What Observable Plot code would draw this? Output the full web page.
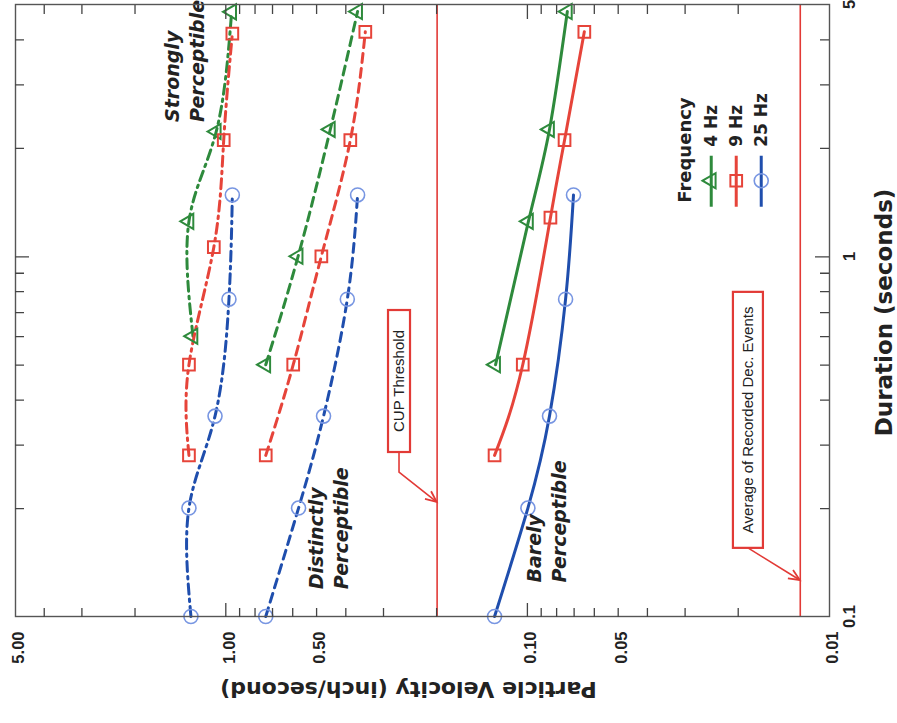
<!DOCTYPE html>
<html>
<head>
<meta charset="utf-8">
<script src="https://cdn.jsdelivr.net/npm/d3@7"></script>
<script src="https://cdn.jsdelivr.net/npm/@observablehq/plot@0.6"></script>
<style>
html, body { margin: 0; padding: 0; background: #fff; overflow: hidden; width: 897px; height: 723px; }
#wrap { position: absolute; left: 0; top: 0; width: 723px; height: 897px;
        transform-origin: 0 0; transform: translate(0px, 723px) rotate(-90deg); }
</style>
</head>
<body>
<div id="wrap"></div>
<script>
// ---------------- data ----------------
const frequencies = ["4 Hz", "9 Hz", "25 Hz"];
const levels = ["Strongly Perceptible", "Distinctly Perceptible", "Barely Perceptible"];

// [duration (seconds), particle velocity (inch/second)]
const strongly4Hz   = [[0.6, 1.29], [1.25, 1.33], [2.22, 1.08], [4.77, 0.96]];
const strongly9Hz   = [[0.28, 1.33], [0.5, 1.33], [1.06, 1.10], [2.1, 1.02], [4.15, 0.955]];
const strongly25Hz  = [[0.1, 1.31], [0.2, 1.33], [0.36, 1.09], [0.76, 0.98], [1.48, 0.955]];
const distinct4Hz   = [[0.5, 0.74], [1.0, 0.578], [2.25, 0.452], [4.78, 0.367]];
const distinct9Hz   = [[0.28, 0.74], [0.5, 0.60], [1.0, 0.484], [2.1, 0.388], [4.2, 0.346]];
const distinct25Hz  = [[0.1, 0.74], [0.2, 0.576], [0.36, 0.476], [0.76, 0.397], [1.48, 0.367]];
const barely4Hz     = [[0.5, 0.128], [1.25, 0.0996], [2.25, 0.0848], [4.78, 0.074]];
const barely9Hz     = [[0.28, 0.129], [0.5, 0.104], [1.28, 0.0842], [2.1, 0.0756], [4.2, 0.065]];
const barely25Hz    = [[0.1, 0.129], [0.2, 0.100], [0.36, 0.0848], [0.76, 0.075], [1.48, 0.0706]];

const cupThreshold = 0.2;            // in/s
const avgRecordedDecEvents = 0.0125; // in/s

const durationTickLabels = [0.1, 1, 5];
const durationMajorTicks = [1];
const durationMinorTicks = [0.2, 0.3, 0.4, 0.5, 0.6, 0.7, 0.8, 0.9, 2, 3, 4];
const velocityTickLabels = [5, 1, 0.5, 0.1, 0.05, 0.01];
const velocityMajorTicks = [1, 0.1];
const velocityMinorTicks = [4, 3, 2, 0.9, 0.8, 0.7, 0.6, 0.5, 0.4, 0.3, 0.2,
                            0.09, 0.08, 0.07, 0.06, 0.05, 0.04, 0.03, 0.02];

// ---------------- table ----------------
const seriesTable = [
  [levels[0], frequencies[0], strongly4Hz], [levels[0], frequencies[1], strongly9Hz], [levels[0], frequencies[2], strongly25Hz],
  [levels[1], frequencies[0], distinct4Hz], [levels[1], frequencies[1], distinct9Hz], [levels[1], frequencies[2], distinct25Hz],
  [levels[2], frequencies[0], barely4Hz],   [levels[2], frequencies[1], barely9Hz],   [levels[2], frequencies[2], barely25Hz]
].map(([level, freq, pts]) => ({level, freq, rows: pts.map(([duration, velocity]) => ({level, freq, duration, velocity}))}));

// ---------------- styles ----------------
const lineColor = {"4 Hz": "#2e8a3c", "9 Hz": "#e6443a", "25 Hz": "#1f4ead"};
const markColor = {"4 Hz": "#2e8a3c", "9 Hz": "#e6443a", "25 Hz": "#7896e2"};
const markSymbol = {"4 Hz": "triangle", "9 Hz": "square", "25 Hz": "circle"};
const markR = {"4 Hz": 5.6, "9 Hz": 6.6, "25 Hz": 7};
const markWidth = {"4 Hz": 2, "9 Hz": 2, "25 Hz": 1.6};
const levelDash = {"Strongly Perceptible": "10,5,2.5,5", "Distinctly Perceptible": "9,6", "Barely Perceptible": null};
const red = "#e23a36";
const ink = "#222";
const axisInk = "#444";

// annotation anchors (data space)
const zoneLabels = [
  {text: "Strongly\nPerceptible", duration: 2.36, velocity: 1.39},
  {text: "Distinctly\nPerceptible", duration: 0.119, velocity: 0.462},
  {text: "Barely\nPerceptible", duration: 0.1243, velocity: 0.0874}
];
const calloutBoxes = [
  {label: "CUP Threshold", duration: 0.452, velocity: 0.2665, w: 142, h: 22, elbow: 20,
   tipDuration: 0.2087, tipVelocity: cupThreshold},
  {label: "Average of Recorded Dec. Events", duration: 0.3526, velocity: 0.01857, w: 256, h: 30, elbow: 0,
   tipDuration: 0.1267, tipVelocity: avgRecordedDecEvents}
];
const legendAnchor = {duration: 1.377, velocity: 0.0302};

// ---------------- custom marks ----------------
function calloutMark(index, scales) {
  const g = d3.create("svg:g");
  for (const c of calloutBoxes) {
    const cx = scales.x(c.duration), cy = scales.y(c.velocity);
    const tx = scales.x(c.tipDuration), ty = scales.y(c.tipVelocity);
    const x0 = cx - c.w / 2;
    const pts = [[x0, cy]];
    if (c.elbow) pts.push([x0 - c.elbow, cy]);
    pts.push([tx, ty]);
    g.append("path").attr("d", d3.line()(pts)).attr("fill", "none")
      .attr("stroke", red).attr("stroke-width", 1.6);
    const [px, py] = pts[pts.length - 2];
    const ang = Math.atan2(ty - py, tx - px), L = 12, a = 0.42;
    g.append("path")
      .attr("d", `M${tx - L * Math.cos(ang - a)},${ty - L * Math.sin(ang - a)}L${tx},${ty}L${tx - L * Math.cos(ang + a)},${ty - L * Math.sin(ang + a)}`)
      .attr("fill", "none").attr("stroke", red).attr("stroke-width", 1.8);
    g.append("rect").attr("x", x0).attr("y", cy - c.h / 2).attr("width", c.w).attr("height", c.h)
      .attr("fill", "white").attr("stroke", red).attr("stroke-width", 2.2);
    g.append("text").attr("x", cx).attr("y", cy).attr("dy", "0.36em")
      .attr("text-anchor", "middle").attr("fill", ink)
      .attr("font-family", "Liberation Sans, Arial, sans-serif").attr("font-size", 15)
      .text(c.label);
  }
  return g.node();
}

function legendMark(index, scales) {
  const g = d3.create("svg:g");
  const x0 = scales.x(legendAnchor.duration), y0 = scales.y(legendAnchor.velocity);
  g.append("text").attr("x", x0 + 4).attr("y", y0).attr("dy", "0.36em").attr("text-anchor", "start")
    .attr("font-family", "DejaVu Sans, sans-serif").attr("font-weight", "bold")
    .attr("font-size", 18).attr("fill", ink).text("Frequency");
  frequencies.forEach((f, i) => {
    const y = y0 + 27 + 25 * i;
    g.append("line").attr("x1", x0).attr("x2", x0 + 51).attr("y1", y).attr("y2", y)
      .attr("stroke", lineColor[f]).attr("stroke-width", 3);
    const sym = {triangle: d3.symbolTriangle, square: d3.symbolSquare, circle: d3.symbolCircle}[markSymbol[f]];
    g.append("path").attr("d", d3.symbol(sym, Math.PI * markR[f] * markR[f])())
      .attr("transform", `translate(${x0 + 26},${y})`)
      .attr("fill", "none").attr("stroke", markColor[f]).attr("stroke-width", markWidth[f]);
    g.append("text").attr("x", x0 + 60).attr("y", y).attr("dy", "0.36em").attr("text-anchor", "start")
      .attr("font-family", "DejaVu Sans, sans-serif").attr("font-weight", "bold")
      .attr("font-size", 17).attr("fill", ink).text(f);
  });
  return g.node();
}

// inward ticks on all four sides of the frame
function ticksMark(index, scales, values, dims) {
  const g = d3.create("svg:g").attr("stroke", axisInk).attr("stroke-width", 1.3).attr("fill", "none");
  const L = dims.marginLeft, R = dims.width - dims.marginRight;
  const T = dims.marginTop, B = dims.height - dims.marginBottom;
  const d = [];
  const addX = (ticks, len) => ticks.forEach(t => { const x = scales.x(t);
    d.push(`M${x},${B}V${B - len}`, `M${x},${T}V${T + len}`); });
  const addY = (ticks, len) => ticks.forEach(t => { const y = scales.y(t);
    d.push(`M${L},${y}H${L + len}`, `M${R},${y}H${R - len}`); });
  addX(durationMinorTicks, 9); addX(durationMajorTicks, 14);
  addY(velocityMinorTicks, 9); addY(velocityMajorTicks, 14);
  g.append("path").attr("d", d.join(""));
  return g.node();
}

// ---------------- marks ----------------
const marks = [];
marks.push(Plot.ruleY([cupThreshold, avgRecordedDecEvents], {stroke: red, strokeWidth: 1.6}));
for (const s of seriesTable) {
  marks.push(Plot.line(s.rows, {x: "duration", y: "velocity", stroke: lineColor[s.freq], strokeWidth: 3,
    strokeDasharray: levelDash[s.level], curve: "natural"}));
}
for (const s of seriesTable) {
  marks.push(Plot.dot(s.rows, {x: "duration", y: "velocity", symbol: markSymbol[s.freq], r: markR[s.freq],
    stroke: markColor[s.freq], strokeWidth: markWidth[s.freq], fill: "none"}));
}
marks.push(Plot.text(zoneLabels, {x: "duration", y: "velocity", text: "text", textAnchor: "start",
  lineAnchor: "middle", lineHeight: 1.32, fontSize: 19, fontWeight: "bold", fontStyle: "italic",
  fontFamily: "DejaVu Sans, sans-serif", fill: ink}));
marks.push(calloutMark);
marks.push(legendMark);
marks.push(Plot.frame({stroke: "#555", strokeWidth: 1.4}));
marks.push(ticksMark);
// tick labels
marks.push(Plot.text(durationTickLabels, {x: d => d, frameAnchor: "bottom", dy: 14, lineAnchor: "top",
  textAnchor: "middle", text: d => String(d), fontSize: 16.5, fontWeight: "bold",
  fontFamily: "Liberation Sans, Arial, sans-serif", fill: ink}));
marks.push(Plot.text(velocityTickLabels, {y: d => d, frameAnchor: "left", dx: -15, dy: 3, textAnchor: "end",
  lineAnchor: "middle", text: d => d3.format(".2f")(d), fontSize: 16.5, fontWeight: "bold",
  fontFamily: "Liberation Sans, Arial, sans-serif", fill: ink}));
// axis titles
marks.push(Plot.text(["Particle Velocity (inch/second)"], {frameAnchor: "left", dx: -73, dy: -14, rotate: -90,
  textAnchor: "middle", lineAnchor: "middle",
  fontSize: 22, fontWeight: "bold", fontFamily: "DejaVu Sans, sans-serif", fill: ink}));
marks.push(Plot.text(["Duration (seconds)"], {frameAnchor: "bottom", dy: 55, dx: -2,
  textAnchor: "middle", lineAnchor: "middle",
  fontSize: 23, fontWeight: "bold", fontFamily: "DejaVu Sans, sans-serif", fill: ink}));

const chart = Plot.plot({
  width: 723,
  height: 897,
  marginLeft: 106,
  marginRight: 5,
  marginTop: 15,
  marginBottom: 68,
  x: {type: "log", domain: [0.1, 5], label: null, axis: null},
  y: {type: "log", domain: [0.01, 5], label: null, axis: null},
  style: {background: "white", fontFamily: "DejaVu Sans, sans-serif", overflow: "visible"},
  marks
});
document.getElementById("wrap").appendChild(chart);
</script>
</body>
</html>
